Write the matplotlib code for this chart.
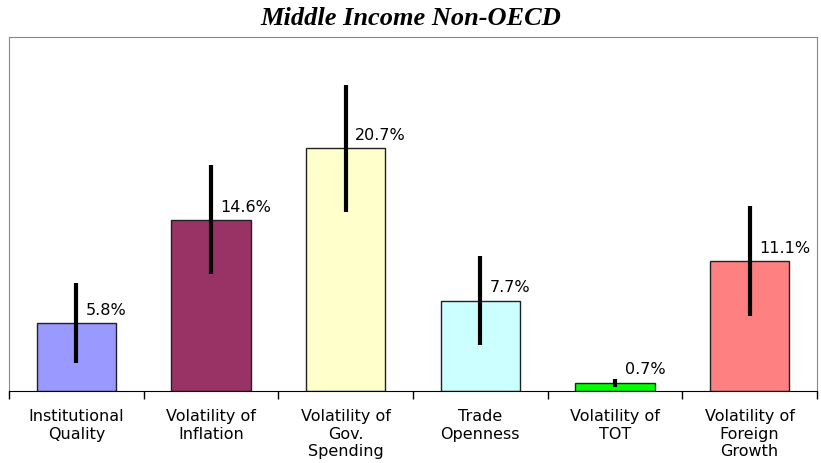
import matplotlib
matplotlib.use('Agg')
import matplotlib.pyplot as plt
import numpy as np

categories = ["Institutional\nQuality", "Volatility of\nInflation", "Volatility of\nGov.\nSpending",
              "Trade\nOpenness", "Volatility of\nTOT", "Volatility of\nForeign\nGrowth"]
values = [5.8, 14.6, 20.7, 7.7, 0.7, 11.1]
errors = [3.4, 4.65, 5.4, 3.8, 0.35, 4.7]
labels = ["5.8%", "14.6%", "20.7%", "7.7%", "0.7%", "11.1%"]
colors = ['#9999FF', '#993366', '#FFFFCC', '#CCFFFF', '#00FF00', '#FF8080']

fig = plt.figure(figsize=(8.21, 4.64), dpi=100)
ax = fig.add_axes([0.011, 0.155, 0.984, 0.763])

x = np.arange(len(values))
ax.bar(x, values, width=0.59, color=colors, edgecolor='#222222', linewidth=1)
ax.errorbar(x, values, yerr=errors, fmt='none', ecolor='black', elinewidth=3, capsize=0)

for xi, v, lab in zip(x, values, labels):
    ax.annotate(lab, xy=(xi, v), xytext=(7, 10), textcoords='offset points',
                fontsize=11.5, family='DejaVu Sans', ha='left', va='center')

ax.set_xlim(-0.5, len(values) - 0.5)
ax.set_ylim(0, 30.2)
ax.set_yticks([])

# category ticks sit between the bars
ax.set_xticks(np.arange(-0.5, len(values)), minor=False)
ax.set_xticklabels([])
ax.tick_params(axis='x', which='major', length=6, width=1, color='black')
ax.set_xticks(x, minor=True)
ax.set_xticklabels(categories, minor=True, fontsize=11.5, family='DejaVu Sans',
                   linespacing=1.23)
ax.tick_params(axis='x', which='minor', length=0, pad=12)

for side in ['top', 'left', 'right']:
    ax.spines[side].set_color('#888888')
ax.spines['bottom'].set_color('black')

fig.text(0.5, 0.961, "Middle Income Non-OECD", ha='center', va='center',
         fontsize=19, fontweight='bold', fontstyle='italic', family='Liberation Serif')

plt.savefig('out.png', dpi=100, facecolor='white')
